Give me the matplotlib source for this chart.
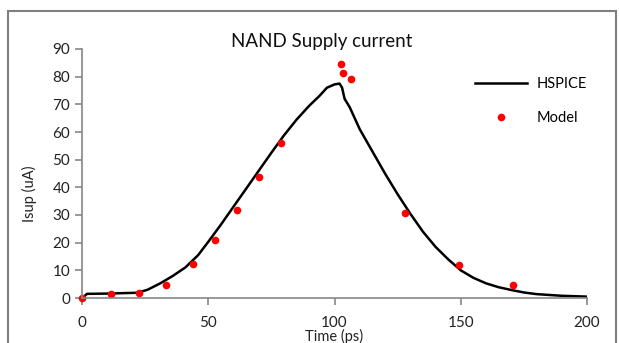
import matplotlib
matplotlib.use("Agg")
import matplotlib.pyplot as plt
from matplotlib.patches import Rectangle

plt.rcParams['font.family'] = ['Lato', 'DejaVu Sans']

# HSPICE simulation (ps, uA)
t_hspice = [0, 2, 10, 22, 26, 31, 36, 41, 46, 50, 55, 60, 65, 70, 75, 80, 85, 90,
            94, 97, 100, 102, 103, 104, 106, 110, 115, 120, 125, 130, 135, 140,
            145, 150, 155, 160, 165, 170, 175, 180, 190, 200]
i_hspice = [0, 1.5, 1.6, 1.9, 3.0, 5.3, 8.0, 11.1, 15.5, 20.3, 26.5, 33.0, 39.5,
            46.0, 52.5, 58.8, 64.5, 69.5, 73.0, 76.0, 77.2, 77.5, 76.0, 72.0, 69.0,
            61.0, 53.0, 45.0, 37.5, 30.5, 24.0, 18.5, 14.0, 10.0, 7.3, 5.3, 3.9,
            2.9, 2.0, 1.4, 0.8, 0.5]

# Model points
t_model = [0, 11.5, 22.6, 33.3, 44, 52.7, 61.4, 70.1, 78.8, 102.6, 103.4, 106.5,
           128, 149.3, 170.7]
i_model = [0, 1.5, 1.8, 4.7, 12.3, 21, 31.8, 43.7, 56, 84.5, 81.3, 79,
           30.7, 11.9, 4.7]

fig = plt.figure(figsize=(6.19, 3.43), dpi=100)
ax = fig.add_axes([82 / 619, 45 / 343, 505 / 619, 249 / 343])

ax.plot(t_hspice, i_hspice, color='black', lw=1.8, label='HSPICE')
ax.plot(t_model, i_model, 'o', color='#ff0000', ms=5.5, mec='none', label='Model',
        clip_on=False)

ax.set_xlim(0, 200)
ax.set_ylim(0, 90)
ax.set_xticks([0, 50, 100, 150, 200])
ax.set_yticks(range(0, 91, 10))

grey = '#868686'
for s in ['top', 'right']:
    ax.spines[s].set_visible(False)
for s in ['left', 'bottom']:
    ax.spines[s].set_color(grey)
    ax.spines[s].set_linewidth(1.2)
ax.tick_params(colors=grey, labelcolor='#222222', labelsize=11, length=5, width=1.2)
ax.tick_params(axis='x', pad=8)

ax.set_xlabel('Time (ps)', fontsize=10.5, color='#222222', labelpad=0)
ax.xaxis.set_label_coords(0.5, -0.125)
ax.set_ylabel('Isup (uA)', fontsize=10.5, color='#222222')
ax.yaxis.set_label_coords(-0.089, 0.42)

fig.text(322 / 619, 1 - 41 / 343, 'NAND Supply current', ha='center', va='center',
         fontsize=13.5, color='#111111')

ax.legend(loc='upper left', bbox_to_anchor=(0.752, 0.94), frameon=False,
          fontsize=10.5, handlelength=3.6, labelspacing=1.4, handletextpad=0.6)

fig.add_artist(Rectangle((7.5 / 619, -0.05), 608.5 / 619, (332 + 17) / 343,
                         transform=fig.transFigure, fill=False, edgecolor='#7f7f7f',
                         lw=1.5))

fig.savefig('out.png', dpi=100)
